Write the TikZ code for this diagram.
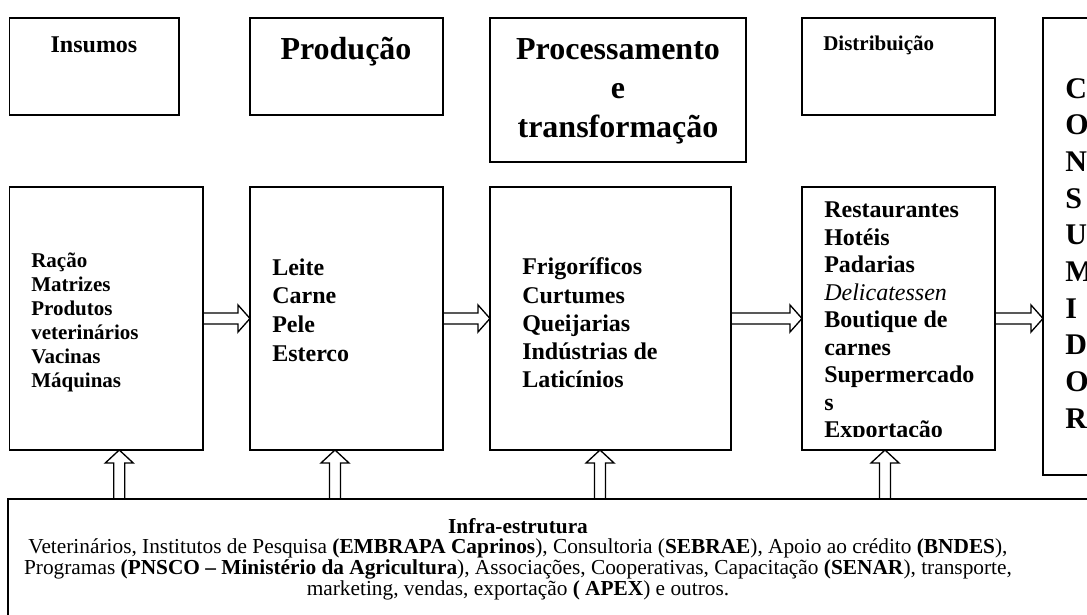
\documentclass[tikz,border=0pt]{standalone}
\usepackage{fontspec}
\setmainfont{Liberation Serif}
\usetikzlibrary{calc}

\newdimen\px \px=0.75pt
\newcommand{\fs}[2]{\fontsize{#1}{#2}\selectfont}

\tikzset{
  box/.style={draw, line width=1.1pt, inner sep=0pt, outer sep=0pt, anchor=north west},
  txt/.style={inner sep=0pt, align=left},
  rarrow/.style={line width=1pt, to path={
      ($(\tikztostart)+(0,-5.5)$) -- ($(\tikztotarget)+(-12,-5.5)$) -- ($(\tikztotarget)+(-12,-13.5)$)
      -- (\tikztotarget) -- ($(\tikztotarget)+(-12,13.5)$) -- ($(\tikztotarget)+(-12,5.5)$)
      -- ($(\tikztostart)+(0,5.5)$)}},
  uarrow/.style={line width=1pt, to path={
      ($(\tikztostart)+(-5.5,0)$) -- ($(\tikztotarget)+(-5.5,13)$) -- ($(\tikztotarget)+(-14,13)$)
      -- (\tikztotarget) -- ($(\tikztotarget)+(14,13)$) -- ($(\tikztotarget)+(5.5,13)$)
      -- ($(\tikztostart)+(5.5,0)$)}}
}

\begin{document}
\begin{tikzpicture}[x=0.75pt, y=-0.75pt]
        \useasboundingbox (0,0) rectangle (1087,614);

        % etapas
        \node[box, minimum width=169.5\px, minimum height=97\px] (ins) at (9.5,18) {};
        \node[box, minimum width=193\px, minimum height=97\px] (prod) at (250,18) {};
        \node[box, minimum width=256\px, minimum height=144\px] (proc) at (490,18) {};
        \node[box, minimum width=193\px, minimum height=97\px] (dist) at (802,18) {};
        \node[box, minimum width=90\px, minimum height=457\px] (cons) at (1043,18) {};

        \node[txt, font=\bfseries\fs{18}{20}] (tins) at (94,45) {Insumos};
        \node[txt, font=\bfseries\fs{24}{28}] (tprod) at (346,52) {Produção};
        \node[txt, align=center, font=\bfseries\fs{24}{29.3}] (tproc) at (618,91) {Processamento\\e\\transformação};
        \node[txt, anchor=west, font=\bfseries\fs{15.75}{18}] (tdist) at (823,45) {Distribuição};
        \node[txt, anchor=north west, font=\bfseries\fs{22.5}{27.5}] (tcons) at (1065,78) {C\\O\\N\\S\\U\\M\\I\\D\\O\\R};

        % agentes
        \node[box, minimum width=193.5\px, minimum height=263\px] (b1) at (9.5,187) {};
        \node[box, minimum width=193\px, minimum height=263\px] (b2) at (250,187) {};
        \node[box, minimum width=241\px, minimum height=263\px] (b3) at (490,187) {};
        \node[box, minimum width=193\px, minimum height=263\px] (b4) at (802,187) {};

        \node[txt, anchor=west, font=\bfseries\fs{15.75}{18}] (tb1) at (31,322) {Ração\\Matrizes\\Produtos\\veterinários\\Vacinas\\Máquinas};
        \node[txt, anchor=west, font=\bfseries\fs{18}{21.4}] (tb2) at (272,310) {Leite\\Carne\\Pele\\Esterco};
        \node[txt, anchor=west, font=\bfseries\fs{18}{21.2}] (tb3) at (522,323) {Frigoríficos\\Curtumes\\Queijarias\\Indústrias de\\Laticínios};
        \begin{scope}
        \clip (802,187) rectangle (995,436);
        \node[txt, anchor=north west, font=\bfseries\fs{18}{20.6}] (tb4) at (824,202) {Restaurantes\\Hotéis\\Padarias\\{\mdseries\itshape Delicatessen}\\Boutique de\\carnes\\Supermercado\\s\\Exportação};
        \end{scope}

        % infra
        \node[box, line width=1.4pt, minimum width=1100\px, minimum height=150\px] (infra) at (8,499) {};
        \node[txt, align=center, font=\fs{16}{15.5}] (tinfra) at (518,559) {\textbf{Infra-estrutura}\\
          Veterinários, Institutos de Pesquisa \textbf{(EMBRAPA Caprinos}), Consultoria (\textbf{SEBRAE}), Apoio ao crédito \textbf{(BNDES}),\\
          Programas \textbf{(PNSCO – Ministério da Agricultura}), Associações, Cooperativas, Capacitação \textbf{(SENAR}), transporte,\\
          marketing, vendas, exportação \textbf{( APEX}) e outros.};

        \draw[rarrow] (b1.east) to (b2.west);
        \draw[rarrow] (b2.east) to (b3.west);
        \draw[rarrow] (b3.east) to (b4.west);
        \draw[rarrow] (b4.east) to (b4.east -| cons.west);

        \coordinate (u1) at ($(b1.south)+(13,0)$);
        \coordinate (u2) at ($(b2.south)+(-11.5,0)$);
        \coordinate (u3) at ($(b3.south)+(-10.5,0)$);
        \coordinate (u4) at ($(b4.south)+(-13.5,0)$);
        \draw[uarrow] (u1 |- infra.north) to (u1);
        \draw[uarrow] (u2 |- infra.north) to (u2);
        \draw[uarrow] (u3 |- infra.north) to (u3);
        \draw[uarrow] (u4 |- infra.north) to (u4);
\end{tikzpicture}
\end{document}
